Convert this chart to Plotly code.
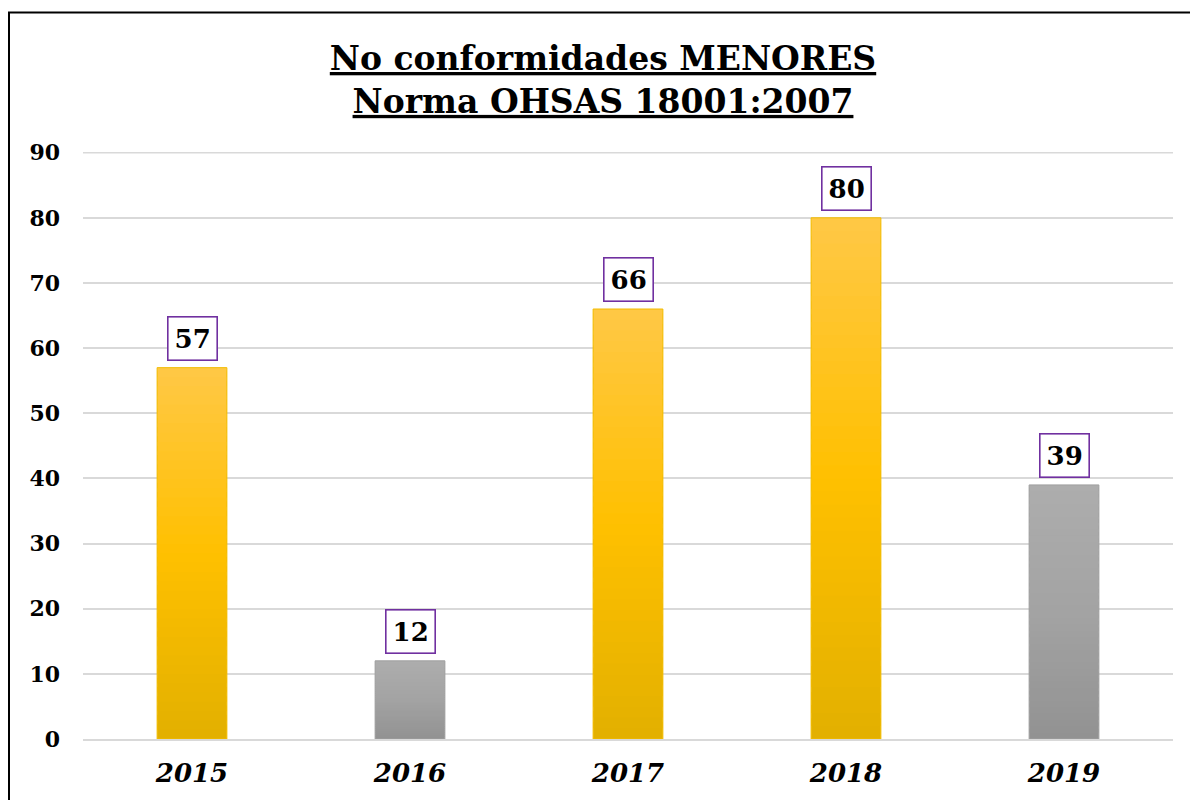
import plotly.graph_objects as go

# ---- data ----
years = ["2015", "2016", "2017", "2018", "2019"]
values = [57, 12, 66, 80, 39]
bar_scheme = ["gold", "gray", "gold", "gold", "gray"]
y_ticks = [0, 10, 20, 30, 40, 50, 60, 70, 80, 90]
title_lines = ["No conformidades MENORES", "Norma OHSAS 18001:2007"]

# ---- styles ----
FONT = "DejaVu Serif"
W, H = 1190, 792
ML, MR, MT, MB = 75, 25, 144, 61
GRID = "#D9D9D9"
gradients = {
    "gold": [(0.0, (0xE2, 0xB0, 0x00)), (0.5, (0xFF, 0xC0, 0x00)), (1.0, (0xFF, 0xC8, 0x46))],
    "gray": [(0.0, (0x92, 0x92, 0x92)), (0.5, (0xA3, 0xA3, 0xA3)), (1.0, (0xAD, 0xAD, 0xAD))],
}
outline = {"gold": "#F2BC00", "gray": "#A0A0A0"}


def grad_color(stops, t):
    for (t0, c0), (t1, c1) in zip(stops[:-1], stops[1:]):
        if t <= t1:
            f = (t - t0) / (t1 - t0) if t1 > t0 else 0
            c = [round(a + (b - a) * f) for a, b in zip(c0, c1)]
            return "rgb(%d,%d,%d)" % tuple(c)
    return "rgb(%d,%d,%d)" % stops[-1][1]


fig = go.Figure()
N = 40
BW = 0.32
for k in range(N):
    t = (k + 0.5) / N
    bases = [v * k / N for v in values]
    heights = [min(v * 1.6 / N, v - b) for v, b in zip(values, bases)]
    cols = [grad_color(gradients[s], t) for s in bar_scheme]
    fig.add_trace(go.Bar(x=years, y=heights, base=bases, width=BW,
                         marker=dict(color=cols, line=dict(width=0)),
                         hoverinfo="skip", showlegend=False))
# outline
fig.add_trace(go.Bar(x=years, y=values, width=BW,
                     marker=dict(color="rgba(0,0,0,0)",
                                 line=dict(color=[outline[s] for s in bar_scheme], width=1)),
                     hoverinfo="skip", showlegend=False))

# value labels (x as category index)
for i, v in enumerate(values):
    fig.add_annotation(x=i, y=v, xref="x", yref="y", text="<b>%d</b>" % v,
                       showarrow=False, yanchor="bottom", yshift=7,
                       font=dict(family=FONT, size=26, color="black"),
                       bordercolor="#7030A0", borderwidth=1.6, borderpad=6,
                       bgcolor="white")

# top gridline (plotly drops the grid line sitting on the plot edge)
fig.add_hline(y=y_ticks[-1], line=dict(color=GRID, width=1.5), layer="below")

plot_w = W - ML - MR
plot_h = H - MT - MB
# frame border (cropped chart area)
fig.add_shape(type="rect", xref="paper", yref="paper",
              x0=(1 - ML) / plot_w, x1=1.2,
              y0=-0.3, y1=1 + (MT - 4.5) / plot_h,
              line=dict(color="black", width=2), layer="below")

fig.update_layout(
    width=W, height=H,
    margin=dict(l=ML, r=MR, t=MT, b=MB, autoexpand=False),
    paper_bgcolor="white", plot_bgcolor="white",
    barmode="overlay",
    title=dict(text="<br>".join("<b><u>%s</u></b>" % s for s in title_lines),
               x=0.5, xref="container", xanchor="center",
               y=1 - 62 / H, yanchor="middle",
               font=dict(family=FONT, size=33, color="black")),
    font=dict(family=FONT, color="black"),
)
fig.update_yaxes(range=[0, 90.1], tickvals=y_ticks, showgrid=True,
                 gridcolor=GRID, gridwidth=1.5, zeroline=False,
                 showline=False, ticks="", ticklabelstandoff=22,
                 tickfont=dict(family=FONT, size=22, color="black", weight="bold"))
fig.update_xaxes(type="category", range=[-0.5, 4.5],
                 showline=True, linecolor=GRID, linewidth=1.5,
                 ticks="", ticklabelstandoff=10,
                 tickfont=dict(family=FONT, size=26, color="black",
                               weight="bold", style="italic"))

fig.write_html("out.html")
